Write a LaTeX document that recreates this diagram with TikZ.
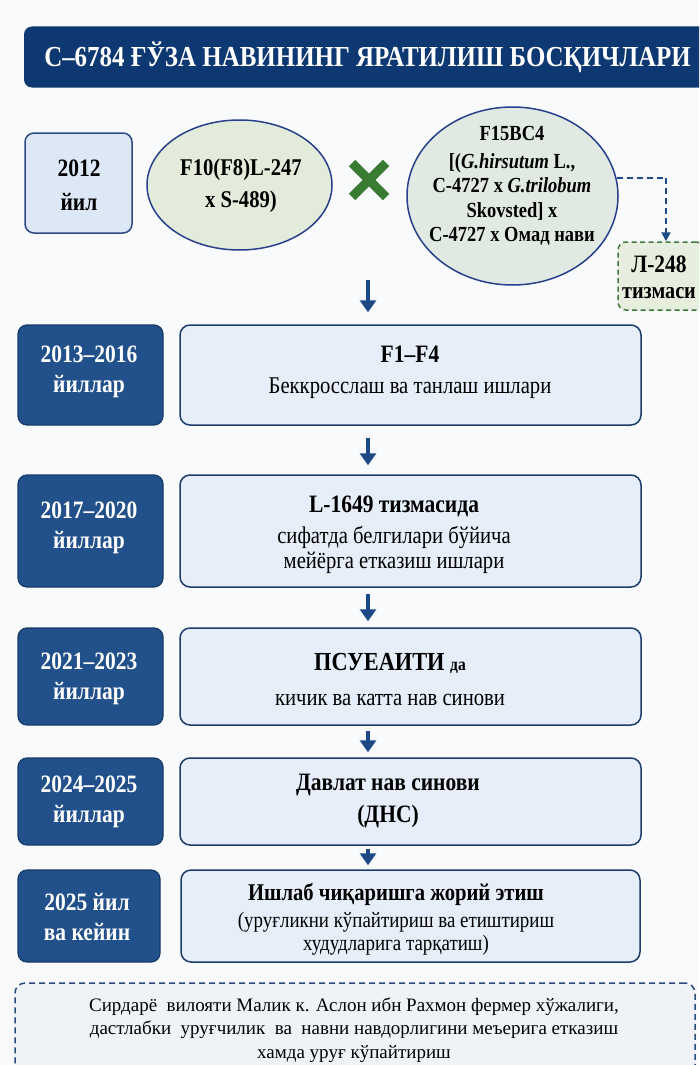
\documentclass[tikz,border=0pt]{standalone}
\usepackage{fontspec}
\setmainfont{Liberation Serif}[FakeStretch=0.86]
\newfontfamily\plainserif{Liberation Serif}
\usetikzlibrary{arrows.meta,calc,shapes.geometric}
\definecolor{bgc}{HTML}{F9FAFB}
\definecolor{titlec}{HTML}{0D3872}
\definecolor{lfill}{HTML}{21508A}
\definecolor{lborder}{HTML}{163A68}
\definecolor{rfill}{HTML}{E5EEF9}
\definecolor{rborder}{HTML}{1E3C6B}
\definecolor{yfill}{HTML}{DDE8F6}
\definecolor{yborder}{HTML}{2B4A84}
\definecolor{efillA}{HTML}{E3EBDA}
\definecolor{efillB}{HTML}{E0EAE2}
\definecolor{eborder}{HTML}{283F8C}
\definecolor{crossc}{HTML}{3A7B34}
\definecolor{gfill}{HTML}{E6EFDE}
\definecolor{gborder}{HTML}{3F7A3B}
\definecolor{arrc}{HTML}{1C4A86}
\definecolor{bfill}{HTML}{EFF2F6}
\definecolor{bborder}{HTML}{2C4B7D}
\newcommand\fsz[2]{\fontsize{#1}{#2}\selectfont}
\tikzset{
  lbox/.style={draw=lborder, fill=lfill, rounded corners=9pt, line width=1.2pt, minimum width=145pt, inner sep=0pt},
  rbox/.style={draw=rborder, fill=rfill, rounded corners=10pt, line width=1.5pt, minimum width=461pt, inner sep=0pt},
  ltxt/.style={text=white, font=\fsz{25}{30}\bfseries, align=center, inner sep=0pt},
  rtxt/.style={text=black, font=\fsz{24}{25}, align=center, inner sep=0pt},
  etxt/.style={text=black, font=\bfseries, align=center, inner sep=0pt},
  arr/.style={draw=arrc, line width=4.5pt, -{Triangle[width=16pt,length=12pt]}},
  dasharr/.style={draw=arrc, line width=2pt, dash pattern=on 6pt off 4pt, -{Triangle[width=9pt,length=9pt]}},
  crossline/.style={draw=crossc, line width=9pt},
}
\begin{document}
\begin{tikzpicture}[x=1pt,y=-1pt]
\useasboundingbox (0,0) rectangle (699,1065);
\fill[bgc] (0,0) rectangle (699,1065);
\begin{scope}
\clip (0,0) rectangle (699,1065);
% title
\node[fill=titlec, rounded corners=8pt, minimum width=690pt, minimum height=61pt, inner sep=0pt] (title) at (369,57) {};
\node[text=white, font=\fsz{29}{30}\bfseries, inner sep=0pt] (titletxt) at (367.5,57) {С–6784 ҒЎЗА НАВИНИНГ ЯРАТИЛИШ БОСҚИЧЛАРИ};
% 2012 row
\node[draw=yborder, fill=yfill, rounded corners=9pt, line width=1.5pt, minimum width=107pt, minimum height=100pt] (y1) at (78.5,183) {};
\node[etxt, font=\fsz{25}{34}\bfseries] (y1t) at (79,185) {2012\\йил};
\node[draw=eborder, fill=efillA, ellipse, line width=1.5pt, minimum width=185pt, minimum height=130pt, inner sep=0pt] (e1) at (239.5,185) {};
\node[etxt, font=\fsz{24}{32}\bfseries] (e1t) at (241,186) {F10(F8)L-247\\x S-489)};
\coordinate (xc) at (369,180);
\draw[crossline] ($(xc)+(-17,-17)$) -- ($(xc)+(17,17)$);
\draw[crossline] ($(xc)+(-17,17)$) -- ($(xc)+(17,-17)$);
\node[draw=eborder, fill=efillB, ellipse, line width=1.5pt, minimum width=211pt, minimum height=178pt, inner sep=0pt] (e2) at (512.5,196) {};
\node[etxt, font=\fsz{21.5}{24.5}\bfseries] (e2t) at (512,186) {F15BC4\\[3pt] [(\textit{G.hirsutum} L.,\\ C-4727 x \textit{G.trilobum}\\ Skovsted] x\\ C-4727 x Омад нави};
\node[draw=gborder, fill=gfill, rounded corners=8pt, line width=1.5pt, dash pattern=on 5pt off 3.5pt, minimum width=86pt, minimum height=68pt, inner sep=0pt] (l248) at (661,276) {};
\node[etxt, font=\fsz{23.5}{26}\bfseries] (l248t) at (659,277) {{\fsz{25}{26}\bfseries Л-248}\\тизмаси};
\draw[dasharr] (e2.10) -| ([xshift=5pt]l248.north) ;
% rows
\node[lbox, minimum height=100pt] (y2) at (90.5,375) {};
\node[rbox, minimum height=100pt] (r2) at (410.5,375) {};
\node[ltxt] (y2t) at (89,372) {2013–2016\\йиллар};
\node[rtxt, font=\fsz{24}{31}] (r2t) at (410,372.5) {{\bfseries\fsz{25}{31}F1–F4}\\Беккросслаш ва танлаш ишлари};
\node[lbox, minimum height=112pt] (y3) at (90.5,531) {};
\node[rbox, minimum height=112pt] (r3) at (410.5,531) {};
\node[ltxt] (y3t) at (89,527.5) {2017–2020\\йиллар};
\node[rtxt] (r3t) at (394,535) {{\bfseries\fsz{25}{25}L-1649 тизмасида}\\[6pt]сифатда белгилари бўйича\\мейёрга етказиш ишлари};
\node[lbox, minimum height=97pt] (y4) at (90.5,676.5) {};
\node[rbox, minimum height=97pt] (r4) at (410.5,676.5) {};
\node[ltxt] (y4t) at (89,678.5) {2021–2023\\йиллар};
\node[rtxt, font=\fsz{24}{35}] (r4t) at (390,679.5) {{\bfseries\fsz{26}{35}ПСУЕАИТИ {\fsz{18}{35}да}}\\кичик ва катта нав синови};
\node[lbox, minimum height=87pt] (y5) at (90.5,801.5) {};
\node[rbox, minimum height=87pt] (r5) at (410.5,801.5) {};
\node[ltxt] (y5t) at (89,802) {2024–2025\\йиллар};
\node[rtxt, font=\fsz{25}{32}\bfseries] (r5t) at (388,801) {Давлат нав синови\\(ДНС)};
\node[lbox, minimum width=142pt, minimum height=92pt] (y6) at (89,916) {};
\node[rbox, minimum width=459pt, minimum height=92pt] (r6) at (410.5,916) {};
\node[ltxt] (y6t) at (87,917) {2025 йил\\ва кейин};
\node[rtxt, font=\fsz{22}{23}] (r6t) at (396,919) {{\bfseries\fsz{24}{23}Ишлаб чиқаришга жорий этиш}\\[4pt](уруғликни кўпайтириш ва етиштириш\\худудларига тарқатиш)};
% bottom box
\node[draw=bborder, fill=bfill, rounded corners=10pt, line width=1.5pt, dash pattern=on 6pt off 4pt, minimum width=680pt, minimum height=140pt, inner sep=0pt] (bot) at (355,1053) {};
\node[text=black, font=\plainserif\fsz{19}{23.5}, align=center, inner sep=0pt] (bott) at (354,1030) {Сирдарё\ \ вилояти Малик к. Аслон ибн Рахмон фермер хўжалиги,\\дастлабки\ \ уруғчилик\ \ ва\ \ навни навдорлигини меъерига етказиш\\хамда уруғ кўпайтириш};
% arrows
\coordinate (ax) at (368,0);
\coordinate (a1s) at (368,280);
\draw[arr] (a1s) -- ([yshift=12pt]r2.north -| ax);
\draw[arr] ([yshift=-12pt]r2.south -| ax) -- ([yshift=9pt]r3.north -| ax);
\draw[arr] ([yshift=-6pt]r3.south -| ax) -- ([yshift=6pt]r4.north -| ax);
\draw[arr] ([yshift=-5pt]r4.south -| ax) -- ([yshift=5pt]r5.north -| ax);
\draw[arr] ([yshift=-3pt]r5.south -| ax) -- ([yshift=4pt]r6.north -| ax);
\end{scope}
\end{tikzpicture}
\end{document}
